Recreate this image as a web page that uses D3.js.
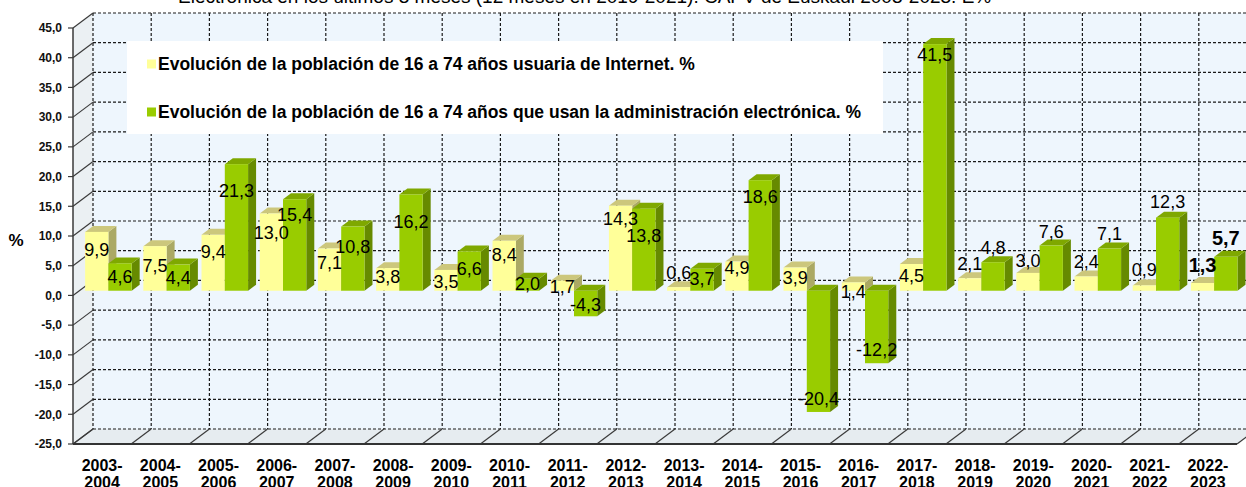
<!DOCTYPE html>
<html>
<head>
<meta charset="utf-8">
<script src="https://cdn.jsdelivr.net/npm/d3@7"></script>
<style>
  html, body { margin: 0; padding: 0; background: #fff; }
  svg { display: block; font-family: "Liberation Sans", Arial, sans-serif; }
</style>
</head>
<body>
<svg id="chart" width="1246" height="487"></svg>
<script>
// ---------- data ----------
const categories = ["2003-2004","2004-2005","2005-2006","2006-2007","2007-2008","2008-2009","2009-2010",
  "2010-2011","2011-2012","2012-2013","2013-2014","2014-2015","2015-2016","2016-2017","2017-2018",
  "2018-2019","2019-2020","2020-2021","2021-2022","2022-2023"];
const internetUsers = [9.9, 7.5, 9.4, 13.0, 7.1, 3.8, 3.5, 8.4, 1.7, 14.3, 0.6, 4.9, 3.9, 1.4, 4.5, 2.1, 3.0, 2.4, 0.9, 1.3];
const eAdminUsers = [4.6, 4.4, 21.3, 15.4, 10.8, 16.2, 6.6, 2.0, -4.3, 13.8, 3.7, 18.6, -20.4, -12.2, 41.5, 4.8, 7.6, 7.1, 12.3, 5.7];
const yTicks = [-25, -20, -15, -10, -5, 0, 5, 10, 15, 20, 25, 30, 35, 40, 45];
const seriesNames = [
  "Evolución de la población de 16 a 74 años usuaria de Internet. %",
  "Evolución de la población de 16 a 74 años que usan la administración electrónica. %"
];
const titleText = "Electrónica en los últimos 3 meses (12 meses en 2019-2021). CAPV de Euskadi 2003-2023. E%";

// label placement (pixel nudge of label centre from bar end), layout only
const internetLabelNudge = [18,19,17,19,14,8,12,14,6,13,-15,6,10,9,12,-15,-12,-15,-16,-18];
const eAdminLabelNudge   = [13,13,26,15,20,27,17,5,-12,27,10,16,-13,-14,10,-15,-14,-15,-16,-19];

// ---------- layout ----------
const svg = d3.select("#chart");
const fmt = v => d3.format(".1f")(v).replace(".", ",").replace("\u2212", "-");

const X0 = 73, X1 = 1237;          // front floor edge
const DX = 20, DY = -15;           // depth of the plot box
const y = d3.scaleLinear().domain([-25, 45]).range([444, 28]);
const x = d3.scaleBand().domain(categories).range([X0, X1]).padding(0);
const step = x.bandwidth();
const xs = d3.scaleBand().domain(["internet", "eadmin"]).range([0.1 * step, 0.9 * step]).padding(0);
const barOff = {dx: 6.3, dy: -4.7};   // front face of bars inside depth
const barDepth = {dx: 8, dy: -6};

const colors = {
  internet: {front: "#FFFF99", top: "#CCC77C", side: "#ABA964"},
  eadmin:   {front: "#99CC00", top: "#7FA800", side: "#668A00"}
};

// title (mostly cut at the top)
svg.append("text").attr("x", 178).attr("y", 3).attr("font-size", 19)
  .attr("fill", "#000").text(titleText);

// back wall
const yMin = y(-25), yMax = y(45);
svg.append("rect").attr("x", X0 + DX).attr("y", yMax + DY)
  .attr("width", X1 - X0).attr("height", yMin - yMax).attr("fill", "#EEF6FD");

// left wall
svg.append("path").attr("d", `M${X0},${yMax} L${X0+DX},${yMax+DY} L${X0+DX},${yMin+DY} L${X0},${yMin} Z`)
  .attr("fill", "#EBF0F3");
// floor
svg.append("path").attr("d", `M${X0},${yMin} L${X0+DX},${yMin+DY} L${X1+DX},${yMin+DY} L${X1},${yMin} Z`)
  .attr("fill", "#E6ECF0");

// back wall gridlines
const grid = svg.append("g").attr("stroke", "#1a1a1a").attr("stroke-width", 1.2)
  .attr("stroke-dasharray", "3,2").attr("fill", "none");
yTicks.forEach(v => {
  grid.append("line").attr("x1", X0 + DX).attr("x2", X1 + DX)
    .attr("y1", y(v) + DY).attr("y2", y(v) + DY);
});
d3.range(categories.length + 1).forEach(j => {
  const xx = X0 + j * step + DX;
  grid.append("line").attr("x1", xx).attr("x2", xx).attr("y1", yMax + DY).attr("y2", yMin + DY);
});

// left wall diagonals + floor diagonals
const struct = svg.append("g").attr("stroke", "#3a3a3a").attr("stroke-width", 1.2);
yTicks.forEach(v => {
  struct.append("line").attr("x1", X0).attr("y1", y(v)).attr("x2", X0 + DX).attr("y2", y(v) + DY);
  struct.append("line").attr("x1", X0 - 5).attr("y1", y(v)).attr("x2", X0).attr("y2", y(v));
});
d3.range(categories.length + 1).forEach(j => {
  const xx = X0 + j * step;
  struct.append("line").attr("x1", xx).attr("y1", yMin).attr("x2", xx + DX).attr("y2", yMin + DY);
});
svg.append("line").attr("x1", X0).attr("x2", X0).attr("y1", yMax).attr("y2", yMin)
  .attr("stroke", "#3a3a3a").attr("stroke-width", 1.5);
svg.append("line").attr("x1", X0).attr("x2", X1).attr("y1", yMin).attr("y2", yMin)
  .attr("stroke", "#333").attr("stroke-width", 2.2);

// y tick labels
svg.append("g").selectAll("text").data(yTicks).join("text")
  .attr("x", 62).attr("y", d => y(d)).attr("dy", "0.36em")
  .attr("text-anchor", "end").attr("font-size", 12).attr("font-weight", "bold")
  .attr("fill", "#111").text(d => fmt(d));
svg.append("text").attr("x", 16).attr("y", 246).attr("text-anchor", "middle")
  .attr("font-size", 17).attr("font-weight", "bold").text("%");

// x labels
const xl = svg.append("g").selectAll("text").data(categories).join("text")
  .attr("text-anchor", "middle").attr("font-size", 16).attr("font-weight", "bold").attr("fill", "#000");
xl.each(function(d) {
  const cx = x(d) + step / 2;
  const parts = d.split("-");
  const t = d3.select(this);
  t.append("tspan").attr("x", cx).attr("y", 471).text(parts[0] + "-");
  t.append("tspan").attr("x", cx).attr("y", 488).text(parts[1]);
});

// bars
const barsG = svg.append("g");
function drawBar(cat, key, v) {
  const c = colors[key];
  const xl0 = x(cat) + xs(key) + barOff.dx;
  const xr0 = xl0 + xs.bandwidth();
  const yz = y(0) + barOff.dy;
  const yv = y(v) + barOff.dy;
  const yt = Math.min(yz, yv), yb = Math.max(yz, yv);
  const ddx = barDepth.dx, ddy = barDepth.dy;
  const g = barsG.append("g");
  g.append("path").attr("d", `M${xr0},${yt} L${xr0+ddx},${yt+ddy} L${xr0+ddx},${yb+ddy} L${xr0},${yb} Z`)
    .attr("fill", c.side);
  g.append("path").attr("d", `M${xl0},${yt} L${xl0+ddx},${yt+ddy} L${xr0+ddx},${yt+ddy} L${xr0},${yt} Z`)
    .attr("fill", c.top);
  g.append("rect").attr("x", xl0).attr("y", yt).attr("width", xr0 - xl0).attr("height", Math.max(0.5, yb - yt))
    .attr("fill", c.front);
  return {cx: (xl0 + xr0) / 2, yEnd: yv};
}

const labelsG = svg.append("g");
categories.forEach((cat, i) => {
  const a = drawBar(cat, "internet", internetUsers[i]);
  const b = drawBar(cat, "eadmin", eAdminUsers[i]);
  const last = i === categories.length - 1;
  [[a, internetUsers[i], internetLabelNudge[i]], [b, eAdminUsers[i], eAdminLabelNudge[i]]].forEach(([p, v, n]) => {
    labelsG.append("text").attr("x", p.cx).attr("y", p.yEnd + n).attr("dy", "0.36em")
      .attr("text-anchor", "middle").attr("font-size", last ? 20 : 18)
      .attr("font-weight", last ? "bold" : "normal").attr("fill", "#000").text(fmt(v));
  });
});

// legend
const lg = svg.append("g");
lg.append("rect").attr("x", 127).attr("y", 41).attr("width", 756).attr("height", 93).attr("fill", "#fff");
[["internet", 64], ["eadmin", 112]].forEach(([k, cy], i) => {
  lg.append("rect").attr("x", 147).attr("y", cy - 4.5).attr("width", 9).attr("height", 9)
    .attr("fill", colors[k].front);
  lg.append("text").attr("x", 158).attr("y", cy).attr("dy", "0.36em")
    .attr("font-size", 17.5).attr("font-weight", "bold").attr("fill", "#000").text(seriesNames[i]);
});
</script>
</body>
</html>
